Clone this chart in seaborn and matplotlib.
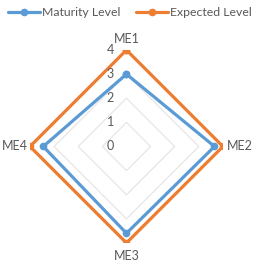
import numpy as np
import pandas as pd
import matplotlib
matplotlib.use("Agg")
import matplotlib.pyplot as plt
import seaborn as sns

# values
categories = ["ME1", "ME2", "ME3", "ME4"]
maturity_level = [3.0, 3.65, 3.6, 3.45]
expected_level = [4.0, 4.0, 4.0, 4.0]
radial_ticks = [0, 1, 2, 3, 4]

sns.set_theme(style="white")
plt.rcParams["font.family"] = ["Lato", "DejaVu Sans"]
text_grey = "#595959"

# build a long table, closing each polygon by repeating the first point
angles = np.linspace(0, 2 * np.pi, len(categories), endpoint=False)
closed = np.append(angles, 2 * np.pi)
rows = []
for name, vals in [("Maturity Level", maturity_level), ("Expected Level", expected_level)]:
    for t, v in zip(closed, vals + vals[:1]):
        rows.append({"theta": t, "value": v, "series": name})
df = pd.DataFrame(rows)

fig = plt.figure(figsize=(2.6, 2.66), dpi=100)
ax = fig.add_axes([0.1154, 0.0865, 0.742, 0.7256], projection="polar")
ax.set_theta_zero_location("N")
ax.set_theta_direction(-1)
ax.set_ylim(0, 4)
ax.grid(False)
ax.spines["polar"].set_visible(False)
ax.set_xticks([])
ax.set_yticks([])
ax.set_facecolor("white")

# straight polygon gridlines like Excel
for r in radial_ticks[1:]:
    ax.plot(closed, [r] * len(closed), color="#e3e3e3", linewidth=0.8, zorder=1)

sns.lineplot(
    data=df, x="theta", y="value", hue="series", sort=False, estimator=None,
    palette={"Maturity Level": "#5B9BD5", "Expected Level": "#ED7D31"},
    marker="o", markersize=5.5, markeredgewidth=0, linewidth=2.3, ax=ax, zorder=3,
)
ax.set_xlabel("")
ax.set_ylabel("")
handles, labels = ax.get_legend_handles_labels()
ax.get_legend().remove()

# radial value labels, to the left of the top spoke
for r in radial_ticks:
    ax.annotate(str(r), xy=(0, r), xytext=(-16, 0), textcoords="offset pixels",
                ha="center", va="center", fontsize=9, color=text_grey)

# category labels around the outside
placement = [("center", "bottom", 4.2), ("left", "center", 4.15),
             ("center", "top", 4.3), ("right", "center", 4.1)]
for t, lab, (ha, va, r) in zip(angles, categories, placement):
    ax.text(t, r, lab, ha=ha, va=va, fontsize=9, color=text_grey, clip_on=False)

fig.legend(handles, labels, loc="upper center", bbox_to_anchor=(0.5, 1.01), ncol=2,
           frameon=False, fontsize=8.8, handlelength=2.6, columnspacing=1.3,
           handletextpad=0.2, borderpad=0.3, labelcolor=text_grey)

fig.savefig("out.png", dpi=100, facecolor="white")
